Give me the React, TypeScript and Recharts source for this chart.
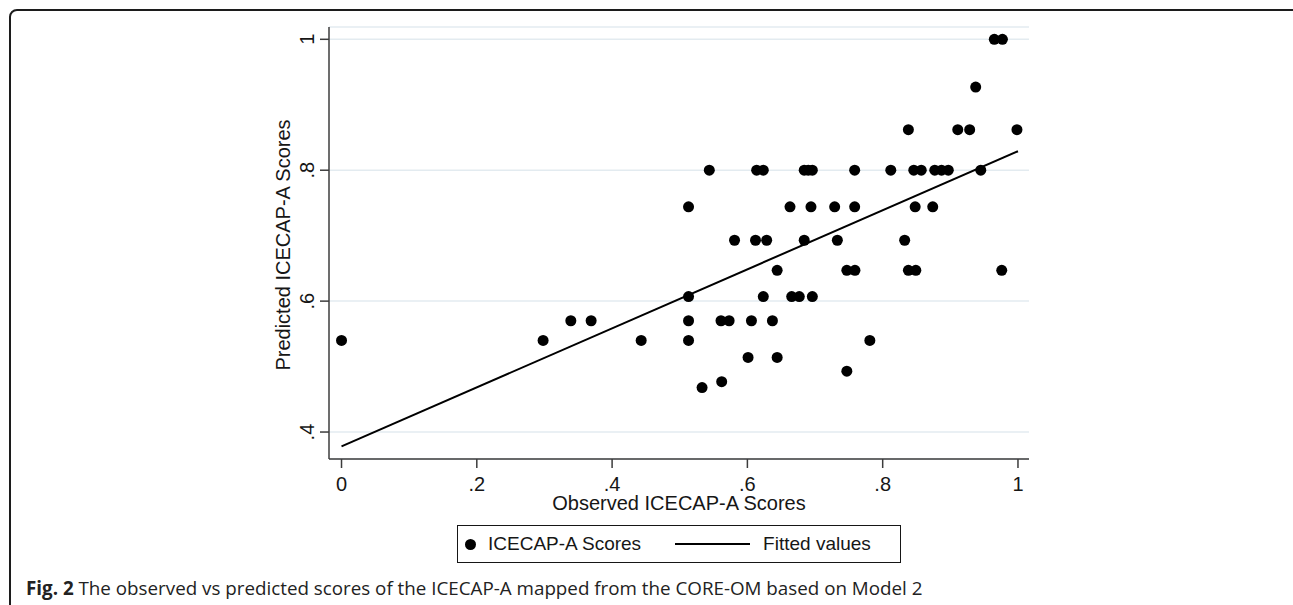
import React from 'react';
import { ScatterChart, Scatter, XAxis, YAxis, CartesianGrid, Legend, Label } from 'recharts';

const observed = [
  0.965, 0.977,
  0.9375,
  0.838, 0.911, 0.9286, 0.9985,
  0.5437, 0.6137, 0.6235, 0.684, 0.69, 0.696, 0.7586, 0.812, 0.846, 0.857, 0.877, 0.887, 0.897, 0.945,
  0.513, 0.663, 0.694, 0.729, 0.7586, 0.848, 0.874,
  0.581, 0.612, 0.6285, 0.684, 0.733, 0.8325,
  0.644, 0.747, 0.759, 0.838, 0.849, 0.976,
  0.513, 0.6235, 0.6655, 0.6767, 0.696,
  0.339, 0.369, 0.513, 0.561, 0.573, 0.606, 0.637,
  0, 0.298, 0.443, 0.513, 0.781,
  0.601, 0.644,
  0.747,
  0.562,
  0.533,
];
const predicted = [
  1.0, 1.0,
  0.927,
  0.862, 0.862, 0.862, 0.862,
  0.8, 0.8, 0.8, 0.8, 0.8, 0.8, 0.8, 0.8, 0.8, 0.8, 0.8, 0.8, 0.8, 0.8,
  0.744, 0.744, 0.744, 0.744, 0.744, 0.744, 0.744,
  0.693, 0.693, 0.693, 0.693, 0.693, 0.693,
  0.647, 0.647, 0.647, 0.647, 0.647, 0.647,
  0.607, 0.607, 0.607, 0.607, 0.607,
  0.57, 0.57, 0.57, 0.57, 0.57, 0.57, 0.57,
  0.54, 0.54, 0.54, 0.54, 0.54,
  0.514, 0.514,
  0.493,
  0.477,
  0.468,
];

// fitted regression line end points
const fitX = [0, 1];
const fitY = [0.378, 0.829];

const xTicks = [0, 0.2, 0.4, 0.6, 0.8, 1];
const yTicks = [0.4, 0.6, 0.8, 1];

const FONT = '"Liberation Sans", Arial, Helvetica, sans-serif';
const INK = '#161616';
const AXIS = '#3c3c3c';

const fmt = (v: number) => String(v).replace(/^0\./, '.');

const points = observed.map((x, i) => ({ x, y: predicted[i] }));
const fitted = fitX.map((x, i) => ({ x, y: fitY[i] }));

const Dot = (p: any) => <circle cx={p.cx} cy={p.cy} r={5.5} fill="#000" />;

const YTick = (props: any) => {
  const { x, y, payload } = props;
  return (
    <text
      x={x}
      y={y}
      transform={`rotate(-90, ${x}, ${y})`}
      textAnchor="middle"
      fontSize={20}
      fontFamily={FONT}
      fill={INK}
    >
      {fmt(payload.value)}
    </text>
  );
};

const yTitle = ({ viewBox }: any) => {
  const x = viewBox.x + 41;
  const y = viewBox.y + viewBox.height / 2 + 2;
  return (
    <text x={x} y={y} transform={`rotate(-90, ${x}, ${y})`} textAnchor="middle" fontSize={20} fontFamily={FONT} fill={INK}>
      Predicted ICECAP-A Scores
    </text>
  );
};

const xTitle = ({ viewBox }: any) => (
  <text x={viewBox.x + viewBox.width / 2} y={viewBox.y + 51} textAnchor="middle" fontSize={20} fontFamily={FONT} fill={INK}>
    Observed ICECAP-A Scores
  </text>
);

const renderLegend = (props: any) => {
  // markers first, fitted line second, as in the figure
  const payload = [...(props.payload || [])].sort(
    (a: any, b: any) => (a.type === 'line' ? 1 : 0) - (b.type === 'line' ? 1 : 0)
  );
  return (
    <div
      style={{
        boxSizing: 'border-box',
        width: 444,
        height: 38,
        border: `1.5px solid ${INK}`,
        background: '#fff',
        display: 'flex',
        alignItems: 'center',
        fontFamily: FONT,
        fontSize: 19,
        color: INK,
        whiteSpace: 'nowrap',
      }}
    >
      {payload.map((entry: any, i: number) =>
        entry.type === 'line' ? (
          <React.Fragment key={i}>
            <span style={{ display: 'inline-block', width: 75, height: 2, background: '#000', marginLeft: 34 }} />
            <span style={{ marginLeft: 13 }}>{entry.value}</span>
          </React.Fragment>
        ) : (
          <React.Fragment key={i}>
            <span style={{ display: 'inline-block', width: 11, height: 11, borderRadius: '50%', background: '#000', marginLeft: 7 }} />
            <span style={{ marginLeft: 12 }}>{entry.value}</span>
          </React.Fragment>
        )
      )}
    </div>
  );
};

export default function App() {
  return (
    <div style={{ position: 'absolute', left: 0, top: 0, width: 1293, height: 605, overflow: 'hidden', background: '#fff' }}>
      <div
        style={{
          position: 'absolute',
          left: 9,
          top: 9,
          width: 1290,
          height: 700,
          border: '2px solid #1c1c1c',
          borderRadius: 8,
        }}
      />
      <div style={{ position: 'absolute', left: 0, top: 0 }}>
        <ScatterChart width={1293} height={605} margin={{ top: 27, right: 264, left: 249, bottom: 86 }}>
          <CartesianGrid vertical={false} stroke="#e3ebf0" strokeWidth={1.5} />
          <XAxis
            type="number"
            dataKey="x"
            domain={[-0.0185, 1.0163]}
            ticks={xTicks}
            tickFormatter={fmt}
            height={60}
            tickSize={9}
            tickMargin={9}
            axisLine={{ stroke: AXIS, strokeWidth: 1.5 }}
            tickLine={{ stroke: AXIS, strokeWidth: 1.5 }}
            tick={{ fontSize: 20, fontFamily: FONT, fill: INK }}
          >
            <Label content={xTitle} />
          </XAxis>
          <YAxis
            type="number"
            dataKey="y"
            domain={[0.3588, 1.0188]}
            ticks={yTicks}
            width={80}
            tickSize={9}
            tickMargin={6}
            axisLine={{ stroke: AXIS, strokeWidth: 1.5 }}
            tickLine={{ stroke: AXIS, strokeWidth: 1.5 }}
            tick={<YTick />}
          >
            <Label content={yTitle} />
          </YAxis>
          <Legend
            layout="vertical"
            align="center"
            verticalAlign="middle"
            content={renderLegend}
            wrapperStyle={{ left: 457, top: 525, width: 444 }}
          />
          <Scatter name="ICECAP-A Scores" data={points} fill="#000" shape={Dot} legendType="circle" isAnimationActive={false} />
          <Scatter
            name="Fitted values"
            data={fitted}
            fill="#000"
            line={{ stroke: '#000', strokeWidth: 2 }}
            shape={() => <g />}
            legendType="line"
            isAnimationActive={false}
          />
        </ScatterChart>
      </div>
      <div
        style={{
          position: 'absolute',
          left: 26,
          top: 578,
          lineHeight: '21px',
          fontFamily: '"Open Sans", "Noto Sans", sans-serif',
          fontSize: 18.8,
          color: '#222',
          whiteSpace: 'nowrap',
        }}
      >
        <b>Fig. 2</b> The observed vs predicted scores of the ICECAP-A mapped from the CORE-OM based on Model 2
      </div>
    </div>
  );
}
